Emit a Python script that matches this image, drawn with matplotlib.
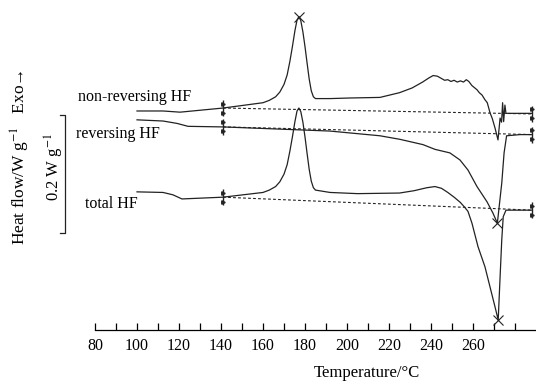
import numpy as np
import matplotlib.pyplot as plt
from matplotlib.transforms import offset_copy

plt.rcParams['font.family'] = ['Liberation Serif', 'DejaVu Serif']
plt.rcParams['mathtext.fontset'] = 'stix'

# curve data: temperature (°C) and heat flow (W/g, stacked for display)
t_nonrev = [100.0, 112.4, 120.5, 141.0, 160.0, 163.0, 166.0, 168.0, 170.0, 171.5,
            172.8, 174.0, 175.2, 176.2, 177.1, 178.0, 179.0, 180.0, 181.0, 182.0,
            183.0, 184.0, 185.0, 191.9, 201.4, 215.7, 225.0, 231.0, 236.0, 239.0,
            241.0, 243.0, 245.0, 246.5, 248.0, 249.5, 251.0, 252.5, 254.0, 255.5,
            256.8, 258.0, 259.5, 261.9, 263.0, 264.3, 265.7, 266.8, 268.1, 269.2,
            270.5, 271.9, 272.9, 273.6, 274.1, 274.6, 275.2, 275.7, 282.4, 288.1]
hf_nonrev = [0.371, 0.371, 0.369, 0.376, 0.385, 0.389, 0.395, 0.403, 0.416, 0.432,
             0.455, 0.480, 0.507, 0.525, 0.531, 0.524, 0.505, 0.480, 0.452, 0.425,
             0.405, 0.395, 0.392, 0.392, 0.393, 0.394, 0.402, 0.410, 0.420, 0.427,
             0.431, 0.430, 0.426, 0.423, 0.424, 0.421, 0.423, 0.420, 0.422, 0.420,
             0.424, 0.421, 0.414, 0.407, 0.402, 0.398, 0.390, 0.385, 0.368, 0.358,
             0.342, 0.322, 0.359, 0.352, 0.385, 0.353, 0.381, 0.367, 0.367, 0.367]

t_rev = [100.0, 112.4, 119.0, 124.3, 141.0, 191.9, 215.7, 225.2, 236.2, 241.9,
         249.0, 253.8, 257.6, 261.9, 266.7, 269.5, 271.6, 273.7, 274.8, 276.0,
         282.4, 288.1]
hf_rev = [0.356, 0.354, 0.350, 0.345, 0.344, 0.337, 0.329, 0.323, 0.314, 0.306,
          0.300, 0.288, 0.271, 0.243, 0.217, 0.198, 0.181, 0.249, 0.300, 0.329,
          0.331, 0.331]

t_total = [100.0, 112.4, 117.1, 121.4, 141.0, 160.0, 163.0, 166.0, 168.0, 170.0,
           171.5, 172.8, 174.0, 175.2, 176.2, 177.1, 178.0, 179.0, 180.0, 181.0,
           182.0, 183.0, 184.0, 185.0, 191.9, 205.0, 225.0, 232.0, 238.0, 241.9,
           245.0, 248.0, 251.0, 254.0, 256.0, 257.6, 259.5, 262.4, 265.7, 268.1,
           270.5, 272.0, 272.9, 273.7, 274.4, 275.7, 288.1]
hf_total = [0.234, 0.233, 0.229, 0.222, 0.225, 0.233, 0.237, 0.243, 0.251, 0.264,
            0.280, 0.303, 0.327, 0.353, 0.371, 0.376, 0.370, 0.352, 0.327, 0.299,
            0.272, 0.252, 0.241, 0.237, 0.233, 0.231, 0.232, 0.236, 0.241, 0.243,
            0.240, 0.233, 0.225, 0.216, 0.208, 0.201, 0.181, 0.141, 0.107, 0.073,
            0.039, 0.017, 0.090, 0.153, 0.192, 0.203, 0.203]

# integration limits and baselines
t_base = [141.0, 288.1]
base_nonrev = [0.376, 0.366]
base_rev = [0.344, 0.331]
base_total = [0.225, 0.203]

# peak marks
t_peaks = [177.1, 271.6, 272.0]
hf_peaks = [0.531, 0.181, 0.017]

fig = plt.figure(figsize=(5.36, 3.82), dpi=100)
ax = fig.add_axes([95 / 536, 52 / 382, 441 / 536, 330 / 382])

lc = '#222222'
for t, hf in [(t_nonrev, hf_nonrev), (t_rev, hf_rev), (t_total, hf_total)]:
    ax.plot(t, hf, color=lc, lw=0.9)

for base in [base_nonrev, base_rev, base_total]:
    ax.plot(t_base, base, color=lc, lw=0.8, ls=(0, (2.5, 2)))
    ax.plot(t_base, base, ls='none', marker='|', ms=11, mew=1.0, color=lc)
    up = offset_copy(ax.transData, fig=fig, y=4.5, units='dots')
    dn = offset_copy(ax.transData, fig=fig, y=-4.5, units='dots')
    ax.plot(t_base, base, ls='none', marker='>', ms=2.5, color=lc, transform=up)
    ax.plot(t_base, base, ls='none', marker='>', ms=2.5, color=lc, transform=dn)

ax.plot(t_peaks, hf_peaks, ls='none', marker='x', ms=7, mew=0.8, color=lc, clip_on=False)

ax.set_xlim(80, 290)
ax.set_ylim(0, 0.559)
for s in ['left', 'top', 'right']:
    ax.spines[s].set_visible(False)
ax.spines['bottom'].set_linewidth(0.9)
ax.set_yticks([])
ticks = np.arange(80, 290, 10)
ax.set_xticks(ticks)
ax.set_xticklabels([str(v) if v % 20 == 0 and v <= 260 else '' for v in ticks])
ax.tick_params(axis='x', direction='in', length=5, width=0.9, labelsize=11.5, pad=6)
ax.set_xlabel('Temperature/°C', fontsize=12)
ax.xaxis.set_label_coords(0.617, -0.105)

# curve labels
ax.text(71.9, 0.395, 'non-reversing HF', fontsize=11.5, va='center', ha='left')
ax.text(71.0, 0.332, 'reversing HF', fontsize=11.5, va='center', ha='left')
ax.text(75.2, 0.214, 'total HF', fontsize=11.5, va='center', ha='left')

# scale bar
ax.plot([63.3, 65.7, 65.7, 63.3], [0.365, 0.365, 0.165, 0.165], color=lc, lw=0.9, clip_on=False)
ax.text(60.5, 0.276, '0.2 W g$^{-1}$', rotation=90, fontsize=12, va='center', ha='center')

fig.text(20 / 536, 1 - 157 / 382, 'Heat flow/W g$^{-1}$   Exo→', rotation=90,
         fontsize=12.5, va='center', ha='center')

fig.savefig('out.png', dpi=100)
